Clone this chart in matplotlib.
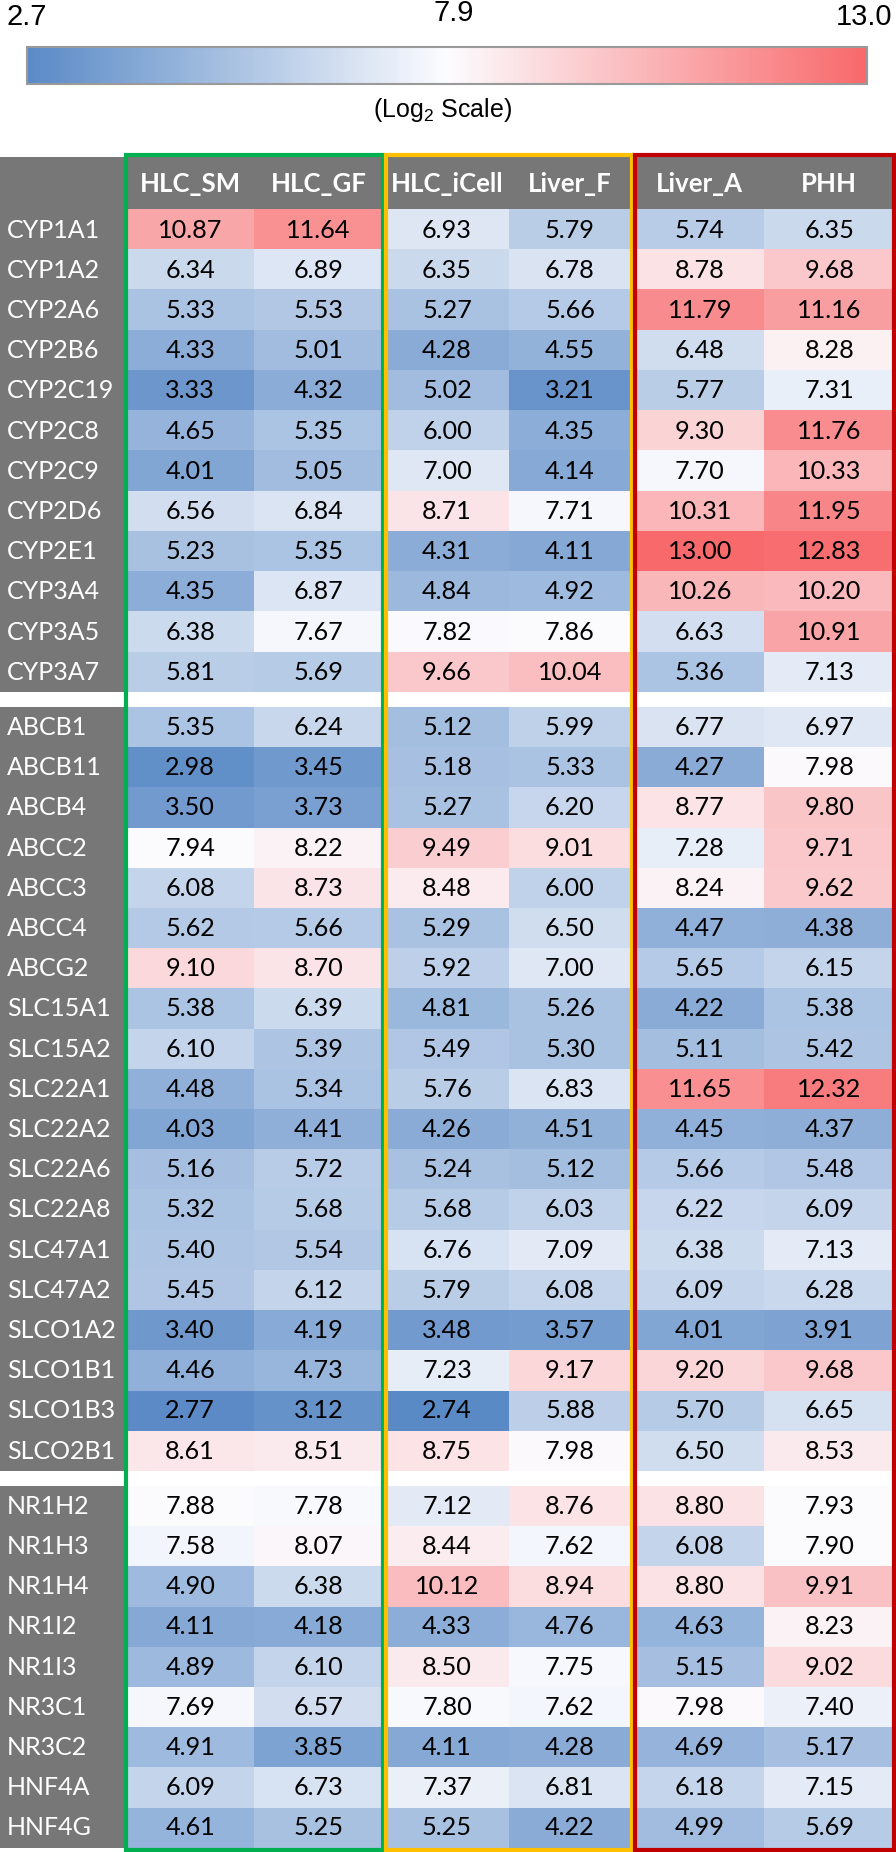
import numpy as np
import matplotlib
matplotlib.use('Agg')
import matplotlib.pyplot as plt
import matplotlib.patches as mpatches
from matplotlib.colors import LinearSegmentedColormap, TwoSlopeNorm
from matplotlib.cm import ScalarMappable

# ---------------------------------------------------------------------------
# Data (log2 expression)
# ---------------------------------------------------------------------------

samples = ['HLC_SM', 'HLC_GF', 'HLC_iCell', 'Liver_F', 'Liver_A', 'PHH']

cyp_genes = ['CYP1A1', 'CYP1A2', 'CYP2A6', 'CYP2B6', 'CYP2C19', 'CYP2C8',
             'CYP2C9', 'CYP2D6', 'CYP2E1', 'CYP3A4', 'CYP3A5', 'CYP3A7']
cyp_values = [
    [10.87, 11.64, 6.93, 5.79, 5.74, 6.35],
    [6.34, 6.89, 6.35, 6.78, 8.78, 9.68],
    [5.33, 5.53, 5.27, 5.66, 11.79, 11.16],
    [4.33, 5.01, 4.28, 4.55, 6.48, 8.28],
    [3.33, 4.32, 5.02, 3.21, 5.77, 7.31],
    [4.65, 5.35, 6.00, 4.35, 9.30, 11.76],
    [4.01, 5.05, 7.00, 4.14, 7.70, 10.33],
    [6.56, 6.84, 8.71, 7.71, 10.31, 11.95],
    [5.23, 5.35, 4.31, 4.11, 13.00, 12.83],
    [4.35, 6.87, 4.84, 4.92, 10.26, 10.20],
    [6.38, 7.67, 7.82, 7.86, 6.63, 10.91],
    [5.81, 5.69, 9.66, 10.04, 5.36, 7.13],
]

transporter_genes = ['ABCB1', 'ABCB11', 'ABCB4', 'ABCC2', 'ABCC3', 'ABCC4', 'ABCG2',
                     'SLC15A1', 'SLC15A2', 'SLC22A1', 'SLC22A2', 'SLC22A6', 'SLC22A8',
                     'SLC47A1', 'SLC47A2', 'SLCO1A2', 'SLCO1B1', 'SLCO1B3', 'SLCO2B1']
transporter_values = [
    [5.35, 6.24, 5.12, 5.99, 6.77, 6.97],
    [2.98, 3.45, 5.18, 5.33, 4.27, 7.98],
    [3.50, 3.73, 5.27, 6.20, 8.77, 9.80],
    [7.94, 8.22, 9.49, 9.01, 7.28, 9.71],
    [6.08, 8.73, 8.48, 6.00, 8.24, 9.62],
    [5.62, 5.66, 5.29, 6.50, 4.47, 4.38],
    [9.10, 8.70, 5.92, 7.00, 5.65, 6.15],
    [5.38, 6.39, 4.81, 5.26, 4.22, 5.38],
    [6.10, 5.39, 5.49, 5.30, 5.11, 5.42],
    [4.48, 5.34, 5.76, 6.83, 11.65, 12.32],
    [4.03, 4.41, 4.26, 4.51, 4.45, 4.37],
    [5.16, 5.72, 5.24, 5.12, 5.66, 5.48],
    [5.32, 5.68, 5.68, 6.03, 6.22, 6.09],
    [5.40, 5.54, 6.76, 7.09, 6.38, 7.13],
    [5.45, 6.12, 5.79, 6.08, 6.09, 6.28],
    [3.40, 4.19, 3.48, 3.57, 4.01, 3.91],
    [4.46, 4.73, 7.23, 9.17, 9.20, 9.68],
    [2.77, 3.12, 2.74, 5.88, 5.70, 6.65],
    [8.61, 8.51, 8.75, 7.98, 6.50, 8.53],
]

nr_genes = ['NR1H2', 'NR1H3', 'NR1H4', 'NR1I2', 'NR1I3', 'NR3C1', 'NR3C2', 'HNF4A', 'HNF4G']
nr_values = [
    [7.88, 7.78, 7.12, 8.76, 8.80, 7.93],
    [7.58, 8.07, 8.44, 7.62, 6.08, 7.90],
    [4.90, 6.38, 10.12, 8.94, 8.80, 9.91],
    [4.11, 4.18, 4.33, 4.76, 4.63, 8.23],
    [4.89, 6.10, 8.50, 7.75, 5.15, 9.02],
    [7.69, 6.57, 7.80, 7.62, 7.98, 7.40],
    [4.91, 3.85, 4.11, 4.28, 4.69, 5.17],
    [6.09, 6.73, 7.37, 6.81, 6.18, 7.15],
    [4.61, 5.25, 5.25, 4.22, 4.99, 5.69],
]

scale_min, scale_mid, scale_max = 2.7, 7.9, 13.0

# ---------------------------------------------------------------------------
# Layout (pixels) and styles
# ---------------------------------------------------------------------------

W, H = 896, 1852
HEADER_TOP, HEADER_BOT = 157, 210
ROW_H, GAP = 40.2, 15
LABEL_W = 124
# sample groups: (x left, x right, border colour)
COL_GROUPS = [(126, 382.5, '#00B050'), (385.5, 631.5, '#FFC000'), (635, 894, '#C00000')]
GRAY = '#777777'
CELL_FONT = 'Lato'
CBAR_FONT = 'Liberation Sans'

cmap = LinearSegmentedColormap.from_list('excel_bwr', ['#5A8AC6', '#FCFCFF', '#F8696B'])
norm = TwoSlopeNorm(vmin=scale_min, vcenter=scale_mid, vmax=scale_max)

fig = plt.figure(figsize=(W / 100, H / 100), dpi=100)
ax = fig.add_axes([0, 0, 1, 1])
ax.set_xlim(0, W)
ax.set_ylim(H, 0)
ax.axis('off')

# header band
ax.add_patch(mpatches.Rectangle((0, HEADER_TOP), COL_GROUPS[-1][1], HEADER_BOT - HEADER_TOP,
                                color=GRAY, lw=0, zorder=1))

row_groups = [(cyp_genes, cyp_values), (transporter_genes, transporter_values),
              (nr_genes, nr_values)]

y0 = HEADER_BOT
for genes, vals in row_groups:
    vals = np.array(vals)
    y1 = y0 + ROW_H * len(genes)
    # gray label column
    ax.add_patch(mpatches.Rectangle((0, y0), LABEL_W, y1 - y0, color=GRAY, lw=0, zorder=1))
    for i, g in enumerate(genes):
        ax.text(7, y0 + (i + 0.5) * ROW_H, g, color='white', fontsize=18,
                family=CELL_FONT, va='center', ha='left', zorder=3)
    for k, (xl, xr, _) in enumerate(COL_GROUPS):
        block = vals[:, 2 * k:2 * k + 2]
        ax.imshow(block, cmap=cmap, norm=norm, extent=(xl, xr, y1, y0),
                  aspect='auto', interpolation='nearest', zorder=2)
        cw = (xr - xl) / 2
        for i in range(block.shape[0]):
            for j in range(2):
                ax.text(xl + (j + 0.5) * cw, y0 + (i + 0.5) * ROW_H, f'{block[i, j]:.2f}',
                        fontsize=18.2, family=CELL_FONT, ha='center', va='center', zorder=3)
    y0 = y1 + GAP
table_bot = y1

# header labels and group boxes
for k, (xl, xr, col) in enumerate(COL_GROUPS):
    cw = (xr - xl) / 2
    for j in range(2):
        ax.text(xl + (j + 0.5) * cw, (HEADER_TOP + HEADER_BOT) / 2 + 1, samples[2 * k + j],
                color='white', fontsize=18.5, fontweight='bold', family=CELL_FONT,
                ha='center', va='center', zorder=3)
    ax.add_patch(mpatches.Rectangle((xl, 154.5), xr - xl, table_bot + 1.5 - 154.5,
                                    fill=False, edgecolor=col, lw=3, zorder=4))

# ---------------------------------------------------------------------------
# Colour scale bar
# ---------------------------------------------------------------------------

cax = fig.add_axes([27 / W, 1 - 84 / H, 840 / W, 37 / H])
cb = fig.colorbar(ScalarMappable(norm=norm, cmap=cmap), cax=cax, orientation='horizontal')
cb.set_ticks([])
cb.outline.set_edgecolor('#9a9a9a')
cb.outline.set_linewidth(1.5)

ax.text(6, 17, f'{scale_min:.1f}', fontsize=21, family=CBAR_FONT, ha='left', va='center')
ax.text(454, 13, f'{scale_mid:.1f}', fontsize=21, family=CBAR_FONT, ha='center', va='center')
ax.text(892, 17, f'{scale_max:.1f}', fontsize=21, family=CBAR_FONT, ha='right', va='center')
ax.text(443, 110, r'(Log$_\mathregular{2}$ Scale)', fontsize=18, family=CBAR_FONT,
        ha='center', va='center')

fig.savefig('out.png', dpi=100)
plt.close()
